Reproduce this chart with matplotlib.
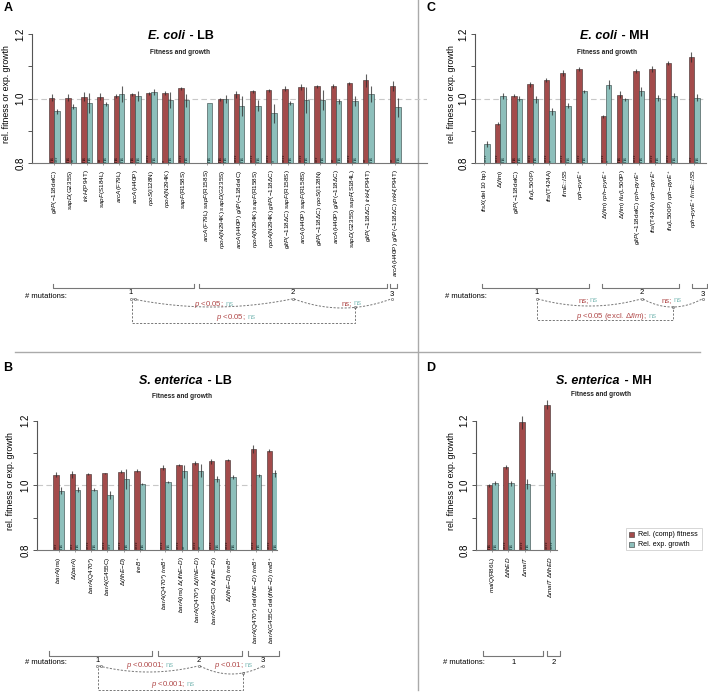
import re
import numpy as np
import matplotlib
matplotlib.use("Agg")
import matplotlib.pyplot as plt
from matplotlib.patches import Rectangle

plt.rcParams['font.family'] = ['Liberation Sans', 'DejaVu Sans']
plt.rcParams['mathtext.fontset'] = 'custom'
plt.rcParams['mathtext.rm'] = 'Liberation Sans'
plt.rcParams['mathtext.it'] = 'Liberation Sans:italic'
plt.rcParams['mathtext.bf'] = 'Liberation Sans:bold'

RED = '#A34B4B'
TEAL = '#8DBFBB'
NA = np.nan

# ---------------- data ----------------
A_labels = ["{gltP}(−118delC)", "{sapD}(G235S)", "{trkH}(P94T)", "{sapF}(S184L)", "{arcA}(F79L)",
            "{arcA}(H40P)", "{rpoS}(I128N)", "{rpoA}(N294K)", "{sapF}(R158S)",
            "{arcA}(F79L) {sapF}(R158S)", "{rpoA}(N294K) {sapD}(G235S)", "{arcA}(H40P) {gltP}(−118delC)",
            "{rpoA}(N294K) {sapF}(R158S)", "{rpoA}(N294K) {gltP}(−118ΔC)", "{gltP}(−118ΔC) {sapF}(R158S)",
            "{arcA}(H40P) {sapF}(R158S)", "{gltP}(−118ΔC) {rpoS}(I128N)", "{arcA}(H40P) {gltP}(−118ΔC)",
            "{sapD}(G235S) {sapF}(S184L)", "{gltP}(−118ΔC) {trkH}(P94T)",
            "{arcA}(H40P) {gltP}(−118ΔC) {trkH}(P94T)"]
A_groups = [9, 11, 1]
A_fit = [1.003, 1.003, 1.006, 1.006, 1.008, 1.013, 1.016, 1.017, 1.032,
         NA, 0.998, 1.013, 1.022, 1.026, 1.030, 1.035, 1.038, 1.039, 1.047, 1.057, 1.039]
A_fit_err = [0.012, 0.010, 0.015, 0.010, 0.005, 0.005, 0.005, 0.005, 0.005,
             NA, 0.005, 0.010, 0.005, 0.005, 0.008, 0.010, 0.005, 0.005, 0.005, 0.020, 0.015]
A_gro = [0.960, 0.975, 0.986, 0.982, 1.015, 1.008, 1.020, 0.995, 0.995,
         0.985, 0.998, 0.977, 0.978, 0.954, 0.986, 0.995, 0.995, 0.992, 0.992, 1.013, 0.973]
A_gro_err = [0.008, 0.008, 0.030, 0.006, 0.025, 0.015, 0.010, 0.025, 0.020,
             0.000, 0.012, 0.030, 0.018, 0.030, 0.005, 0.040, 0.030, 0.008, 0.015, 0.025, 0.030]
A_fit_sig = ["ns", "ns", "ns", "**", "ns", "ns", "****", "*", "****",
             "", "ns", "****", "****", "****", "****", "****", "***", "**", "****", "**", "**"]
A_gro_sig = ["***", "**", "ns", "ns", "ns", "ns", "ns", "ns", "ns",
             "ns", "ns", "ns", "ns", "*", "ns", "ns", "ns", "ns", "ns", "ns", "ns"]

C_labels = ["{ftsX}(del 10 bp)", "Δ({fim})", "{gltP}(−118delC)", "{flu}(L500P)", "{ftsI}(T424A)",
            "{fimE}::{IS5}", "{rph}−{pyrE}^+", "Δ({fim}) {rph}−{pyrE}^+", "Δ({fim}) {flu}(L500P)",
            "{gltP}(−118delC) {rph}−{pyrE}^+", "{ftsI}(T424A) {rph}−{pyrE}^+",
            "{flu}(L500P) {rph}−{pyrE}^+", "{rph}−{pyrE}^+ {fimE}::{IS5}"]
C_groups = [7, 5, 1]
C_fit = [NA, 0.922, 1.009, 1.044, 1.057, 1.079, 1.092, 0.945, 1.012, 1.085, 1.091, 1.109, 1.129]
C_fit_err = [NA, 0.005, 0.005, 0.007, 0.007, 0.010, 0.006, 0.004, 0.010, 0.007, 0.010, 0.006, 0.015]
C_gro = [0.859, 1.007, 1.000, 0.997, 0.960, 0.978, 1.022, 1.043, 0.997, 1.022, 1.002, 1.009, 1.003]
C_gro_err = [0.008, 0.010, 0.008, 0.010, 0.010, 0.008, 0.005, 0.015, 0.005, 0.015, 0.010, 0.008, 0.012]
C_fit_sig = ["", "****", "ns", "****", "****", "****", "****", "****", "ns", "****", "****", "****", "***"]
C_gro_sig = ["****", "ns", "ns", "ns", "*", "ns", "ns", "*", "ns", "ns", "ns", "ns", "ns"]

B_labels = ["{barA}(ins)", "Δ({barA})", "{barA}(Q470*)", "{barA}(G455C)", "Δ({flhE}−{D})", "{treB}^+",
            "{barA}(Q470*) {treB}^+", "{barA}(ins) Δ({flhE}−{D})", "{barA}(Q470*) Δ({flhE}−{D})",
            "{barA}(G455C) Δ({flhE}−{D})", "Δ({flhE}−{D}) {treB}^+",
            "{barA}(Q470*) del({flhE}−{D}) {treB}^+", "{barA}(G455C del({flhE}−{D}) {treB}^+"]
B_groups = [6, 5, 2]
B_fit = [1.033, 1.034, 1.035, 1.037, 1.042, 1.045, 1.055, 1.064, 1.069, 1.075, 1.079, 1.113, 1.107]
B_fit_err = [0.008, 0.010, 0.003, 0.002, 0.004, 0.005, 0.007, 0.003, 0.006, 0.008, 0.004, 0.012, 0.004]
B_gro = [0.984, 0.986, 0.987, 0.970, 1.020, 1.004, 1.009, 1.044, 1.045, 1.020, 1.026, 1.031, 1.037]
B_gro_err = [0.012, 0.008, 0.006, 0.012, 0.030, 0.002, 0.003, 0.020, 0.020, 0.010, 0.006, 0.005, 0.010]
B_fit_sig = ["***", "***", "****", "****", "****", "****", "****", "****", "****", "****", "****", "****", "****"]
B_gro_sig = ["ns", "ns", "ns", "***", "ns", "ns", "ns", "**", "**", "ns", "ns", "ns", "ns"]

D_labels = ["{malQ}(R86L)", "Δ{flhED}", "Δ{malT}", "Δ{malT} Δ{flhED}"]
D_groups = [3, 1]
D_fit = [1.000, 1.056, 1.195, 1.250]
D_fit_err = [0.004, 0.006, 0.020, 0.015]
D_gro = [1.008, 1.006, 1.005, 1.038]
D_gro_err = [0.006, 0.008, 0.015, 0.008]
D_fit_sig = ["ns", "****", "****", "****"]
D_gro_sig = ["ns", "ns", "ns", "****"]

legend_labels = ["Rel. (comp) fitness", "Rel. exp. growth"]

# ---------------- helpers ----------------
W, H = 708, 693
fig = plt.figure(figsize=(W / 100, H / 100), dpi=100)
ov = fig.add_axes([0, 0, 1, 1])
ov.set_xlim(0, W)
ov.set_ylim(H, 0)
ov.axis('off')


def fmt(s):
    # {gene} -> italic (math letters are italic), {gene}^+ -> italic with superscript +
    return re.sub(r'\{([^}]*)\}(\^\+)?',
                  lambda m: '$' + m.group(1) + ('^{+}' if m.group(2) else '') + '$', s)


def positions(sizes, gaps):
    pos, off, i = [], 0.0, 0
    for g, n in enumerate(sizes):
        if g > 0:
            off += gaps[g - 1]
        for _ in range(n):
            pos.append(3 * i + off)
            i += 1
    return np.array(pos)


def panel(labels, groups, gaps, fit, fit_err, gro, gro_err, fsig, gsig,
          left_px, right_px, x0_px, u, y08_px, s, ytop):
    L = positions(groups, gaps)
    ax = fig.add_axes([left_px / W, (H - y08_px) / H, (right_px - left_px) / W,
                       (ytop - 0.8) * s / H])
    ax.set_xlim((left_px - x0_px) / u, (right_px - x0_px) / u)
    ax.set_ylim(0.8, ytop)
    ax.axhline(1.0, color='#C8C8C8', lw=0.8, ls=(0, (5, 3)), zorder=0)
    fit = np.array(fit, float)
    gro = np.array(gro, float)
    ax.bar(L + 0.5, fit - 0.8, bottom=0.8, width=1.0, color=RED, edgecolor='#3a2a2a', lw=0.4, zorder=2)
    ax.bar(L + 1.5, gro - 0.8, bottom=0.8, width=1.0, color=TEAL, edgecolor='#2f3f3f', lw=0.4, zorder=2)
    fe = np.array(fit_err, float)
    ge = np.array(gro_err, float)
    ok = ~np.isnan(fit)
    ax.vlines((L + 0.5)[ok], (fit - fe)[ok], (fit + fe)[ok], color='#2a2a2a', lw=0.8, alpha=0.75, zorder=3)
    ax.vlines(L + 1.5, gro - ge, gro + ge, color='#2a2a2a', lw=0.8, alpha=0.75, zorder=3)
    for i in range(len(L)):
        if fsig[i]:
            ax.text(L[i] + 0.5, 0.802, fsig[i], rotation=90, ha='center', va='bottom',
                    fontsize=4.0, color='#2a1010', zorder=4)
        if gsig[i]:
            ax.text(L[i] + 1.5, 0.802, gsig[i], rotation=90, ha='center', va='bottom',
                    fontsize=4.0, color='#1b3a38', zorder=4)
    for sp in ['top', 'right']:
        ax.spines[sp].set_visible(False)
    ax.spines['left'].set_bounds(0.8, 1.2)
    ax.spines['left'].set_color('#555555')
    ax.spines['bottom'].set_color('#777777')
    ax.spines['left'].set_linewidth(0.8)
    ax.spines['bottom'].set_linewidth(0.8)
    ax.patch.set_alpha(0)
    ax.set_yticks([0.8, 0.9, 1.0, 1.1, 1.2])
    ax.set_yticklabels(['0.8', '', '1.0', '', '1.2'], rotation=90, va='center', fontsize=7)
    ax.tick_params(axis='y', length=3, width=0.7, pad=1.5, color='#555555')
    ax.set_xticks(L + 1.0)
    ax.set_xticklabels([fmt(t) for t in labels], rotation=90, ha='center', va='top', fontsize=4.6)
    ax.tick_params(axis='x', length=1.5, width=0.5, pad=3, color='#777777')
    return ax


def ylabel(xpx, ypx):
    ov.text(xpx, ypx, 'rel. fitness or exp. growth', rotation=90, ha='center', va='center', fontsize=6.3)


def title(xj, y, italic, rest, ysub, xsub):
    ov.text(xj, y, italic, ha='right', va='center', fontsize=9, fontweight='bold', fontstyle='italic')
    ov.text(xj + 1, y, ' - ' + rest, ha='left', va='center', fontsize=9, fontweight='bold')
    ov.text(xsub, ysub, 'Fitness and growth', ha='center', va='center', fontsize=4.7, fontweight='bold',
            color='#222222')


def bracket(x1, x2, y):
    ov.plot([x1, x1, x2, x2], [y - 4.5, y, y, y - 4.5], color='#777777', lw=0.8)


DASH = dict(color='#777777', lw=0.7, ls=(0, (2.2, 1.6)))


def sag(x1, y1, x2, y2, d):
    t = np.linspace(0, 1, 50)
    ov.plot(x1 + (x2 - x1) * t, y1 + (y2 - y1) * t + d * 4 * t * (1 - t), **DASH)


def ptxt(xb, y, red, teal='ns', fs=5.6):
    ov.text(xb - 1.5, y, red, ha='right', va='center', fontsize=fs, color='#B04848')
    ov.text(xb, y, teal, ha='left', va='center', fontsize=fs, color='#88C0BC')


def dot(x, y):
    ov.plot([x], [y], 'o', ms=1.6, mfc='none', mec='#555555', mew=0.4)


# ---------------- panels ----------------
panel(A_labels, A_groups, [1.28, 2.02], A_fit, A_fit_err, A_gro, A_gro_err, A_fit_sig, A_gro_sig,
      32, 427, 49, 5.387, 163, 322.5, 1.25)
panel(C_labels, C_groups, [1.5, 1.24], C_fit, C_fit_err, C_gro, C_gro_err, C_fit_sig, C_gro_sig,
      475, 706, 478.7, 5.42, 163, 322.5, 1.25)
panel(B_labels, B_groups, [1.76, 1.76], B_fit, B_fit_err, B_gro, B_gro_err, B_fit_sig, B_gro_sig,
      36.7, 277, 53.3, 5.4, 550, 323.3, 1.3)
panel(D_labels, D_groups, [1.6], D_fit, D_fit_err, D_gro, D_gro_err, D_fit_sig, D_gro_sig,
      476, 557, 486.7, 5.43, 550, 323.3, 1.3)

# dividers
ov.plot([418, 418], [0, 690], color='#AAAAAA', lw=1.0)
ov.plot([15, 700], [352, 352], color='#AAAAAA', lw=1.0)

# panel letters
for ch, x, y in [('A', 8, 8), ('C', 431, 8), ('B', 8, 368), ('D', 431, 368)]:
    ov.text(x, y, ch, ha='center', va='center', fontsize=9, fontweight='bold')

# titles
title(185, 36, 'E. coli', 'LB', 52, 180)
title(616.5, 36, 'E. coli', 'MH', 52, 607)
title(202.5, 380.7, 'S. enterica', 'LB', 396, 181.5)
title(620, 380.7, 'S. enterica', 'MH', 395, 601)

# y labels
ylabel(7, 94)
ylabel(452, 94)
ylabel(11, 481)
ylabel(451, 481)

# mutation-count brackets
for x1, x2 in [(52.7, 194), (199.3, 386.7), (389.5, 397)]:
    bracket(x1, x2, 288)
for x1, x2 in [(481.7, 589.3), (601.7, 679.3), (691.7, 706.7)]:
    bracket(x1, x2, 288.3)
for x1, x2 in [(49.3, 151.7), (158.3, 242.3), (248.3, 279.3)]:
    bracket(x1, x2, 655.7)
for x1, x2 in [(483.3, 542.7), (546.7, 560)]:
    bracket(x1, x2, 655.7)

for x, y in [(25, 296), (445, 297), (25, 662), (443, 662)]:
    ov.text(x, y, '# mutations:', ha='left', va='center', fontsize=5.5)

for n, x, y in [('1', 131, 293), ('2', 293, 293), ('3', 392, 294),
                ('1', 537, 293), ('2', 642, 293), ('3', 703, 294),
                ('1', 98, 661), ('2', 199, 661), ('3', 263, 661),
                ('1', 513.3, 662), ('2', 553.3, 662)]:
    ov.text(x, y, n, ha='center', va='center', fontsize=5.5)

# panel A comparisons
sag(133, 299, 292, 299, 8)
sag(294, 299, 391, 299, 9)
ov.plot([132, 132, 355, 355], [301, 322.7, 322.7, 307.4], **DASH)
for x, y in [(131, 299), (134.5, 299), (293, 299), (355, 307.4), (392, 299)]:
    dot(x, y)
ptxt(225.7, 304, '$p$ <0.05;')
ptxt(353.3, 303.3, 'ns;')
ptxt(247.3, 317.7, '$p$ <0.05;')

# panel C comparisons
sag(538, 299, 641, 299, 7)
sag(643, 299, 702, 299, 8)
ov.plot([537, 537, 673, 673], [302, 320, 320, 307], **DASH)
for x, y in [(537, 299), (642, 299), (673, 307), (703, 299)]:
    dot(x, y)
ptxt(590, 300.7, 'ns;')
ptxt(673.3, 300.7, 'ns;')
ptxt(648.3, 316.7, '$p$ <0.05 (excl. Δ$fim$);')

# panel B comparisons
sag(99, 666, 198, 666, 6)
sag(200, 666, 263, 666, 8)
ov.plot([97.7, 97.7, 243.3, 243.3], [668, 690, 690, 673], **DASH)
for x, y in [(97, 666), (100.5, 666), (199, 666), (243.3, 673), (263, 666)]:
    dot(x, y)
ptxt(165.7, 665.7, '$p$ <0.0001;')
ptxt(245, 665.7, '$p$ <0.01;')
ptxt(186.7, 684.3, '$p$ <0.001;')

# legend (panel D)
ov.add_patch(Rectangle((626, 528), 75.7, 22, facecolor='white', edgecolor='#D0D0D0', lw=0.6))
ov.add_patch(Rectangle((629.3, 531.7), 4.7, 5, facecolor=RED, edgecolor='#333333', lw=0.4))
ov.add_patch(Rectangle((629.3, 541.7), 4.7, 5, facecolor=TEAL, edgecolor='#333333', lw=0.4))
ov.text(637.5, 534.5, legend_labels[0], ha='left', va='center', fontsize=5.1)
ov.text(637.5, 544.3, legend_labels[1], ha='left', va='center', fontsize=5.1)

fig.savefig('out.png', dpi=100)
